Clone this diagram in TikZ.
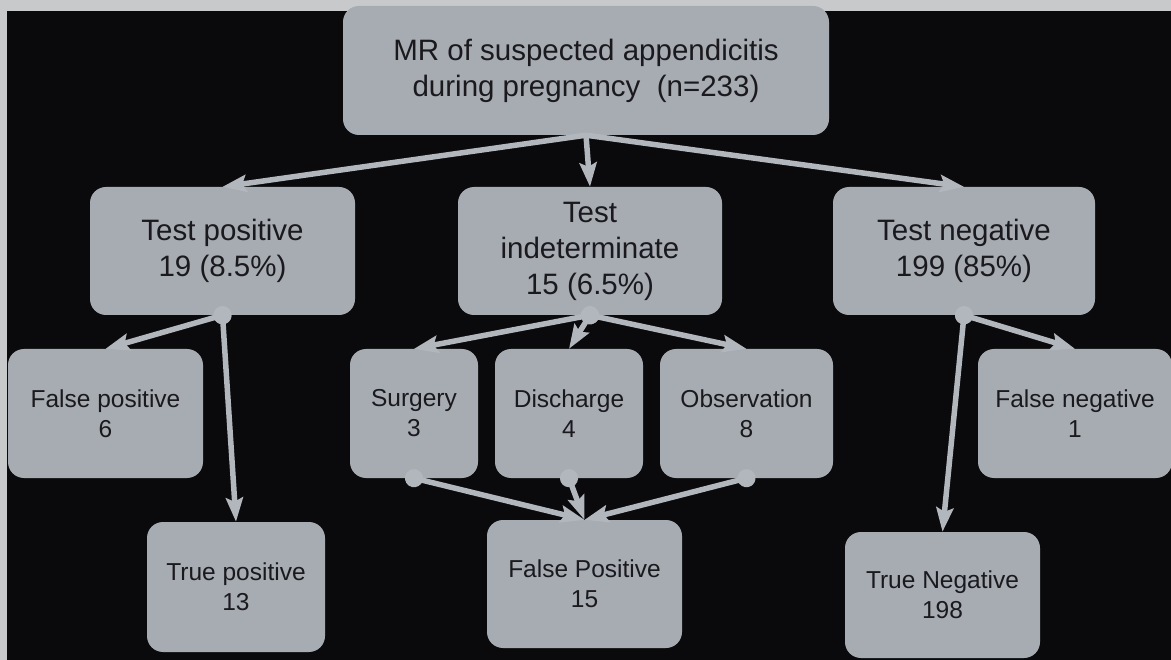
\documentclass[tikz,border=0pt]{standalone}
\usepackage{fontspec}
\setmainfont{Liberation Sans}
\usetikzlibrary{arrows.meta}
\definecolor{bg}{RGB}{10,10,12}
\definecolor{paper}{RGB}{200,201,203}
\definecolor{boxfill}{RGB}{167,171,178}
\definecolor{linkcol}{RGB}{178,182,189}
\definecolor{ink}{RGB}{26,26,30}
\begin{document}
\begin{tikzpicture}[x=1pt,y=-1pt,
  card/.style={draw=none, fill=boxfill, rounded corners=16pt, text=ink, align=center, inner sep=0pt, anchor=center},
  big/.style={card, font=\fontsize{29.5}{36}\selectfont},
  small/.style={card, font=\fontsize{24.5}{30}\selectfont},
  link/.style={draw=linkcol, line width=5.5pt, -{Stealth[length=24pt,width=17pt,inset=4pt]}},
  balllink/.style={draw=linkcol, line width=5.5pt, {Circle[length=18pt]}-{Stealth[length=24pt,width=17pt,inset=4pt]}, shorten <=-9pt}]
\useasboundingbox (0,0) rectangle (1171,660);
\fill[paper] (0,0) rectangle (1171,660);
\fill[bg] (7,11) rectangle (1171,660);

\node[big, minimum width=486pt, minimum height=129pt] (mr) at (586,70.5) {MR of suspected appendicitis\\during pregnancy~ (n=233)};

\node[big, minimum width=265pt, minimum height=128pt] (tp) at (222.5,251) {Test positive\\19 (8.5\%)};
\node[big, minimum width=264pt, minimum height=128pt] (ti) at (590,251) {Test\\indeterminate\\15 (6.5\%)};
\node[big, minimum width=262pt, minimum height=128pt] (tn) at (964,251) {Test negative\\199 (85\%)};

\node[small, minimum width=195pt, minimum height=129pt] (fp) at (105.5,413.5) {False positive\\6};
\node[small, minimum width=128pt, minimum height=129pt] (su) at (414,413.5) {Surgery\\3};
\node[small, minimum width=148pt, minimum height=129pt] (di) at (569,413.5) {Discharge\\4};
\node[small, minimum width=173pt, minimum height=129pt] (ob) at (746.5,413.5) {Observation\\8};
\node[small, minimum width=194pt, minimum height=129pt] (fn) at (1075,413.5) {False negative\\1};

\node[small, minimum width=178pt, minimum height=130pt] (tpos) at (236,587) {True positive\\13};
\node[small, minimum width=195pt, minimum height=128pt] (fp15) at (584.5,584) {False Positive\\15};
\node[small, minimum width=195pt, minimum height=126pt] (tneg) at (942.5,595) {True Negative\\198};

\draw[link] (mr.south) -- (tp.north);
\draw[link] (mr.south) -- (ti.north);
\draw[link] (mr.south) -- (tn.north);

\draw[balllink] (tp.south) -- (fp.north);
\draw[balllink] (tp.south) -- (tpos.north);

\draw[balllink] (ti.south) -- (su.north);
\draw[balllink] (ti.south) -- (di.north);
\draw[balllink] (ti.south) -- (ob.north);

\draw[balllink] (tn.south) -- (fn.north);
\draw[balllink] (tn.south) -- (tneg.north);

\draw[balllink] (su.south) -- (fp15.north);
\draw[balllink] (di.south) -- (fp15.north);
\draw[balllink] (ob.south) -- (fp15.north);
\end{tikzpicture}
\end{document}
